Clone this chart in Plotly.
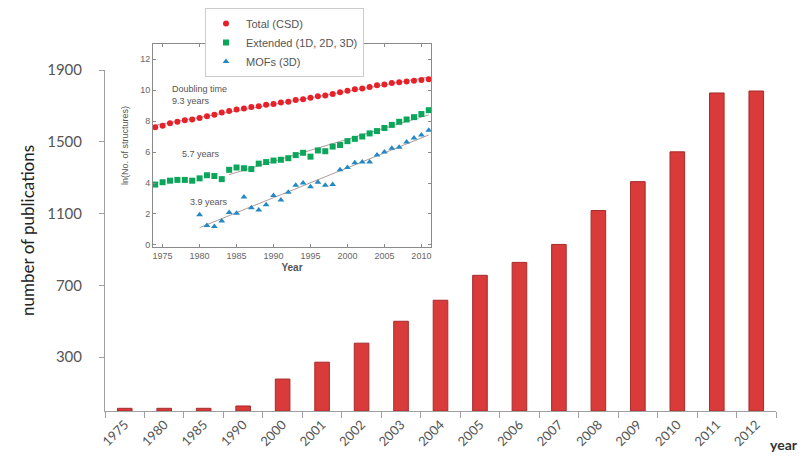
import numpy as np
import plotly.graph_objects as go

# ---- main bar chart data ----
years_cat = ["1975", "1980", "1985", "1990", "2000", "2001", "2002", "2003", "2004",
             "2005", "2006", "2007", "2008", "2009", "2010", "2011", "2012"]
publications = [15, 15, 15, 28, 178, 272, 378, 500, 617,
                756, 828, 928, 1117, 1278, 1444, 1772, 1783]
y_ticks = [300, 700, 1100, 1500, 1900]

# ---- inset data (ln of number of structures) ----
csd_years = list(range(1974, 2012))
csd_total = [7.6, 7.7, 7.85, 7.95, 8.05, 8.1, 8.2, 8.3, 8.4, 8.55, 8.65, 8.75, 8.8,
             8.9, 8.95, 9.05, 9.1, 9.2, 9.25, 9.35, 9.4, 9.5, 9.6, 9.65, 9.75, 9.85,
             9.95, 10.05, 10.1, 10.2, 10.3, 10.35, 10.45, 10.5, 10.55, 10.6, 10.65, 10.7]
extended = [3.9, 4.05, 4.15, 4.2, 4.2, 4.15, 4.3, 4.5, 4.45, 4.25, 4.85, 5.0, 4.95,
            4.9, 5.25, 5.35, 5.45, 5.5, 5.6, 5.8, 5.95, 5.7, 6.1, 6.05, 6.35, 6.45,
            6.7, 6.85, 7.0, 7.2, 7.35, 7.55, 7.75, 7.95, 8.1, 8.25, 8.45, 8.7]
mof_years = list(range(1980, 2012))
mofs = [1.95, 1.25, 1.2, 1.55, 2.1, 2.05, 3.1, 2.4, 2.25, 2.6, 3.2, 2.9, 3.4, 3.85,
        4.0, 3.75, 4.05, 3.85, 3.9, 4.85, 5.0, 5.3, 5.35, 5.35, 5.8, 6.0, 6.25, 6.3,
        6.65, 6.9, 7.1, 7.4]
inset_xticks = [1975, 1980, 1985, 1990, 1995, 2000, 2005, 2010]
inset_yticks = [0, 2, 4, 6, 8, 10, 12]

fig = go.Figure()

fig.add_trace(go.Bar(
    x=years_cat, y=publications, width=0.37,
    marker=dict(color="#d93a3a", line=dict(color="#a82a2a", width=1)),
    showlegend=False, xaxis="x", yaxis="y"))

# fitted trend lines (from the data)
def fit(xs, ys):
    xs = np.array(xs, float)
    p = np.polyfit(xs, np.array(ys, float), 1)
    return xs, np.polyval(p, xs)

for xs, ys in [(csd_years, csd_total), (csd_years[10:], extended[10:]), (mof_years, mofs)]:
    fx, fy = fit(xs, ys)
    fig.add_trace(go.Scatter(x=[fx[0], fx[-1]], y=[fy[0], fy[-1]], mode="lines",
                             line=dict(color="#a08080", width=0.8),
                             showlegend=False, xaxis="x2", yaxis="y2", hoverinfo="skip"))

fig.add_trace(go.Scatter(x=csd_years, y=csd_total, mode="markers", name="Total (CSD)",
                         marker=dict(symbol="circle", size=6, color="#e8202a"),
                         xaxis="x2", yaxis="y2"))
fig.add_trace(go.Scatter(x=csd_years, y=extended, mode="markers", name="Extended (1D, 2D, 3D)",
                         marker=dict(symbol="square", size=6, color="#0aa65a"),
                         xaxis="x2", yaxis="y2"))
fig.add_trace(go.Scatter(x=mof_years, y=mofs, mode="markers", name="MOFs (3D)",
                         marker=dict(symbol="triangle-up", size=6, color="#2389c4"),
                         xaxis="x2", yaxis="y2"))

# page has an 8px body margin: figure is drawn offset by OFF
OFF = 8
W, H = 809 - OFF, 468 - OFF
L, R, T, B = 105 - OFF, 33, 0, 57
pw, ph = W - L - R, H - T - B

def px(x):  # page x -> paper
    return (x - OFF - L) / pw

def py(y):  # page y -> paper
    return (H - B - (y - OFF)) / ph

main_font = "Lato, 'Open Sans', sans-serif"
inset_font = "'Liberation Sans', Arial, sans-serif"

fig.update_layout(
    width=W, height=H,
    margin=dict(l=L, r=R, t=T, b=B, autoexpand=False),
    plot_bgcolor="white", paper_bgcolor="white",
    bargap=0.5,
    xaxis=dict(domain=[0, 1], type="category", showline=True, linecolor="#a0a0a0",
               ticks="outside", tickson="boundaries", ticklen=6, tickcolor="#a0a0a0",
               tickangle=-45, tickfont=dict(family=main_font, size=13, color="#555555"),
               showgrid=False, zeroline=False, anchor="y", automargin=False),
    yaxis=dict(domain=[0, py(70)], range=[0, 1900], tickvals=y_ticks, showline=True,
               linecolor="#a0a0a0", ticks="outside", ticklen=5, tickcolor="#a0a0a0",
               ticklabelstandoff=14,
               tickfont=dict(family=main_font, size=15, color="#555555"),
               showgrid=False, zeroline=False, anchor="x", automargin=False),
    xaxis2=dict(domain=[px(153), px(431)], range=[1973.7, 2011.3], tickvals=inset_xticks,
                showline=True, mirror="ticks", linecolor="#8a8a8a", ticks="inside",
                ticklen=3, tickcolor="#8a8a8a", showgrid=False, zeroline=False,
                tickfont=dict(family=inset_font, size=9, color="#666666"),
                title=dict(text="<b>Year</b>", font=dict(family=inset_font, size=10, color="#555555"),
                           standoff=4),
                anchor="y2", automargin=False),
    yaxis2=dict(domain=[py(247), py(44)], range=[-0.13, 12.97], tickvals=inset_yticks,
                showline=True, mirror="ticks", linecolor="#8a8a8a", ticks="inside",
                ticklen=3, tickcolor="#8a8a8a", showgrid=False, zeroline=False,
                tickfont=dict(family=inset_font, size=9, color="#666666"),
                title=dict(text="ln(No. of structures)", font=dict(family=inset_font, size=9, color="#555555"),
                           standoff=10),
                anchor="x2", automargin=False),
    legend=dict(x=px(205), y=1.0, xanchor="left", yanchor="top",
                bgcolor="white", bordercolor="#cccccc", borderwidth=1,
                font=dict(family=inset_font, size=11, color="#555555"),
                tracegroupgap=0, itemwidth=30),
    annotations=[
        dict(text="number of publications", textangle=-90, x=px(27), y=py(231),
             xref="paper", yref="paper", xanchor="center", yanchor="middle", showarrow=False,
             font=dict(family=main_font, size=17, color="#222222")),
        dict(text="<b>year</b>", x=px(768), y=py(455), xref="paper", yref="paper",
             xanchor="left", showarrow=False,
             font=dict(family=main_font, size=14, color="#333333")),
        dict(text="Doubling time<br>9.3 years", x=1976.0, y=9.65, xref="x2", yref="y2",
             xanchor="left", align="left", showarrow=False,
             font=dict(family=inset_font, size=9, color="#555555")),
        dict(text="5.7 years", x=1977.3, y=5.85, xref="x2", yref="y2",
             xanchor="left", showarrow=False,
             font=dict(family=inset_font, size=9, color="#555555")),
        dict(text="3.9 years", x=1978.5, y=2.75, xref="x2", yref="y2",
             xanchor="left", showarrow=False,
             font=dict(family=inset_font, size=9, color="#555555")),
    ],
)

fig.write_html("out.html")
